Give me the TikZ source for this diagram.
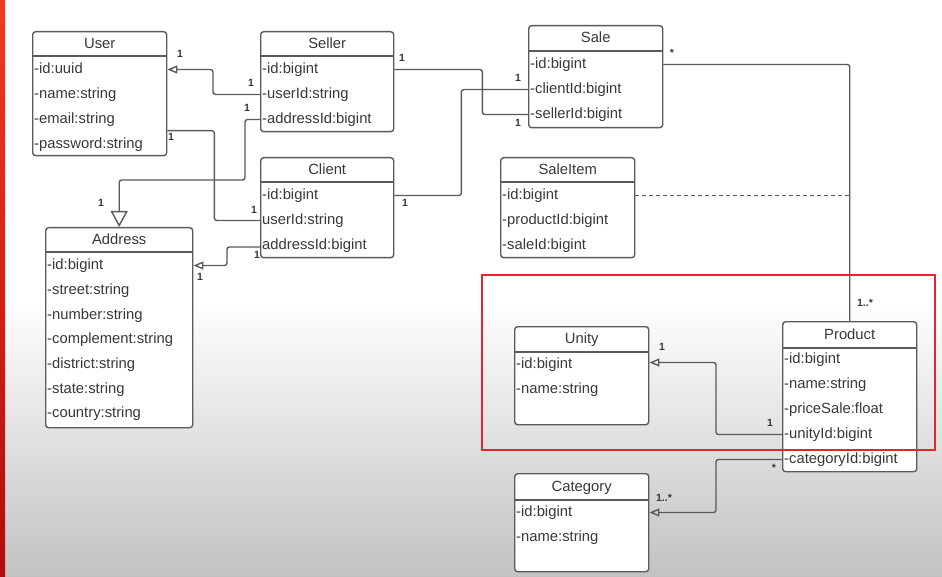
\documentclass[tikz,border=0pt]{standalone}
\usepackage{fontspec}
\setmainfont{Liberation Sans}
\usetikzlibrary{arrows.meta,calc}
\definecolor{textcol}{HTML}{383838}
\definecolor{linecol}{HTML}{5A5A5A}
\definecolor{redbox}{HTML}{E3262B}
\definecolor{stripetop}{HTML}{F03A22}
\definecolor{stripebot}{HTML}{B00C0C}
\definecolor{bggray}{HTML}{C2C2C2}
\tikzset{
  classbox/.style={draw=linecol, line width=1.4pt, rounded corners=3pt, anchor=north west, inner sep=0pt, fill=white},
  sepline/.style={draw=linecol, line width=1.4pt},
  titletext/.style={text=textcol, font=\fontsize{14.8}{16}\selectfont, inner sep=0pt, text height=10.5pt, text depth=3pt},
  attr/.style={text=textcol, font=\fontsize{14.8}{16}\selectfont, inner sep=0pt, anchor=west, text height=10.5pt, text depth=3pt},
  mult/.style={text=textcol, font=\bfseries\fontsize{10.5}{12}\selectfont, inner sep=0pt},
  assoc/.style={draw=linecol, line width=1.4pt, rounded corners=2.5pt},
  smallopen/.style={-{Triangle[open,length=10pt,width=8pt]}},
  bigopen/.style={-{Triangle[open,length=16pt,width=17pt]}},
}
\newcommand\umlclass[7]{%
  \node[classbox, minimum width=#4pt, minimum height=#5pt] (#1) at (#2,#3) {};
  \draw[sepline] ($(#1.north west)+(0,#6)$) -- ($(#1.north east)+(0,#6)$);
  \node[titletext] (#1-title) at ($(#1.north)+(0,#6/2+1)$) {#7};
}
\begin{document}
\begin{tikzpicture}[x=1pt,y=-1pt]
\useasboundingbox (0,0) rectangle (942,577);
% background
\fill[white] (0,0) rectangle (942,577);
\shade[top color=white, bottom color=bggray] (0,300) rectangle (942,577);
\shade[top color=stripetop, bottom color=stripebot] (0,0) rectangle (5,577);

% classes
\umlclass{user}{32}{31}{134}{124}{25}{User}
\node[attr] (u-id) at (34,69.5) {-id:uuid};
\node[attr] (u-name) at (34,94.5) {-name:string};
\node[attr] (u-email) at (34,119.5) {-email:string};
\node[attr] (u-password) at (34,144.5) {-password:string};

\umlclass{seller}{260}{31}{133}{100}{25}{Seller}
\node[attr] (s-id) at (262,69.5) {-id:bigint};
\node[attr] (s-userId) at (262,94.5) {-userId:string};
\node[attr] (s-addressId) at (262,119.5) {-addressId:bigint};

\umlclass{client}{260}{157}{133}{100}{25}{Client}
\node[attr] (c-id) at (262,195.5) {-id:bigint};
\node[attr] (c-userId) at (262,220.5) {userId:string};
\node[attr] (c-addressId) at (262,245.5) {addressId:bigint};

\umlclass{address}{45}{227}{147}{200}{25}{Address}
\node[attr] (a-id) at (47,265.5) {-id:bigint};
\node[attr] (a-street) at (47,290.5) {-street:string};
\node[attr] (a-number) at (47,315.5) {-number:string};
\node[attr] (a-complement) at (47,340) {-complement:string};
\node[attr] (a-district) at (47,364.5) {-district:string};
\node[attr] (a-state) at (47,389.5) {-state:string};
\node[attr] (a-country) at (47,413.5) {-country:string};

\umlclass{sale}{528}{25}{134}{102}{26}{Sale}
\node[attr] (sa-id) at (530,64.5) {-id:bigint};
\node[attr] (sa-clientId) at (530,89.5) {-clientId:bigint};
\node[attr] (sa-sellerId) at (530,114.5) {-sellerId:bigint};

\umlclass{saleitem}{500}{157}{134}{100}{25}{SaleItem}
\node[attr] (si-id) at (502,195.5) {-id:bigint};
\node[attr] (si-productId) at (502,220.5) {-productId:bigint};
\node[attr] (si-saleId) at (502,245.5) {-saleId:bigint};

\umlclass{unity}{514}{326}{134}{98}{26}{Unity}
\node[attr] (un-id) at (516,364.5) {-id:bigint};
\node[attr] (un-name) at (516,389.5) {-name:string};

\umlclass{product}{782}{321}{134}{150}{27}{Product}
\node[attr] (p-id) at (784,359.5) {-id:bigint};
\node[attr] (p-name) at (784,384.5) {-name:string};
\node[attr] (p-priceSale) at (784,409.5) {-priceSale:float};
\node[attr] (p-unityId) at (784,434.5) {-unityId:bigint};
\node[attr] (p-categoryId) at (784,459.5) {-categoryId:bigint};

\umlclass{category}{514}{473}{134}{98}{27}{Category}
\node[attr] (ca-id) at (516,512.5) {-id:bigint};
\node[attr] (ca-name) at (516,537.5) {-name:string};

% connectors
\draw[assoc, smallopen] ($(seller.west |- s-userId)$) -- ++(-47,0) |- ($(user.east |- u-id)$);
\draw[assoc, bigopen] ($(seller.west |- s-addressId)$) -- ++(-15,0) -- ++(0,60.5) -| (address.north);
\draw[assoc] ($(user.east)+(0,37)$) -- ++(47,0) |- ($(client.west |- c-userId)$);
\draw[assoc, smallopen] ($(client.west |- c-addressId)+(0,1.5)$) -- ++(-33,0) |- ($(address.east |- a-id)$);
\draw[assoc] ($(seller.east |- s-id)$) -- ++(88,0) |- ($(sale.west |- sa-sellerId)$);
\draw[assoc] ($(client.east |- c-id)$) -- ++(67,0) |- ($(sale.west |- sa-clientId)$);
\draw[assoc] ($(sale.east |- sa-id)$) -| (product.north);
\draw[draw=linecol, line width=1.2pt, dashed, dash pattern=on 4pt off 3pt] ($(saleitem.east |- si-id)$) -- ($(product.north |- si-id)$);
\draw[assoc, smallopen] ($(product.west |- p-unityId)$) -- ++(-66,0) |- ($(unity.east |- un-id)+(0,-2)$);
\draw[assoc, smallopen] ($(product.west |- p-categoryId)$) -- ++(-66,0) |- ($(category.east |- ca-id)$);

% multiplicities
\node[mult] (m1) at (180,54) {1};
\node[mult] (m2) at (251,83) {1};
\node[mult] (m3) at (247,108) {1};
\node[mult] (m4) at (101,203) {1};
\node[mult] (m5) at (171,137) {1};
\node[mult] (m6) at (254,210) {1};
\node[mult] (m7) at (257,255) {1};
\node[mult] (m8) at (200,277) {1};
\node[mult] (m9) at (402,58) {1};
\node[mult] (m10) at (518,123) {1};
\node[mult] (m11) at (405,203) {1};
\node[mult] (m12) at (518,78) {1};
\node[mult] (m13) at (672,53) {*};
\node[mult] (m14) at (865,303) {1..*};
\node[mult] (m15) at (662,347) {1};
\node[mult] (m16) at (770,423) {1};
\node[mult] (m17) at (774,468) {*};
\node[mult] (m18) at (664,498) {1..*};

% highlight
\draw[draw=redbox, line width=1.2pt] (482,275) rectangle (935,450);
\end{tikzpicture}
\end{document}
